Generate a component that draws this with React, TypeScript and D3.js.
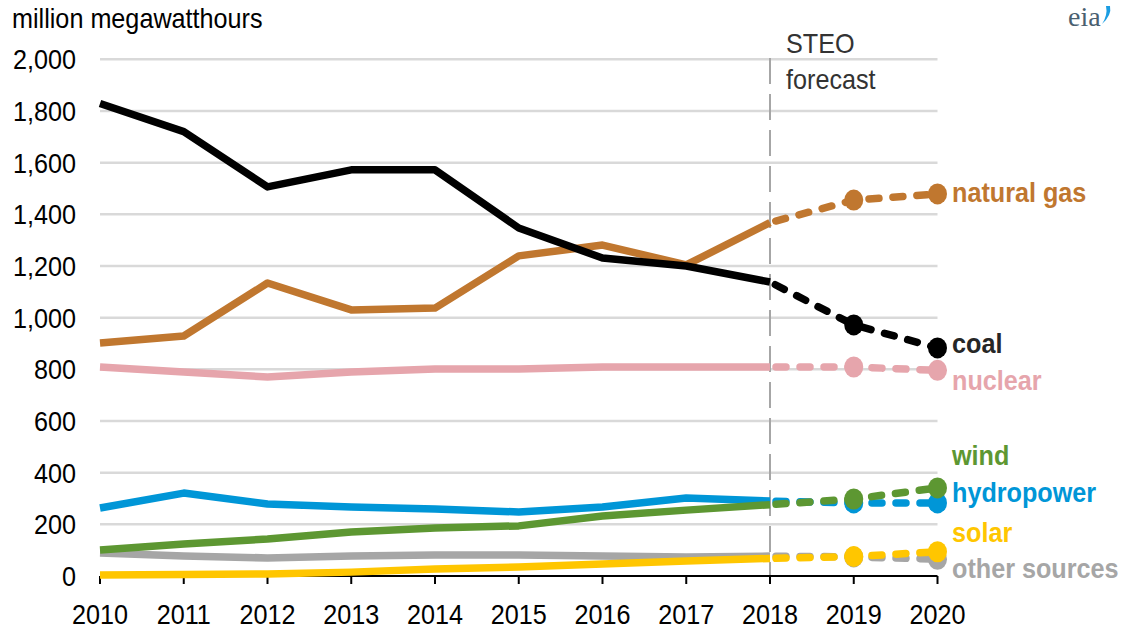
import React from "react";
import * as d3 from "d3";

const years = [2010, 2011, 2012, 2013, 2014, 2015, 2016, 2017, 2018, 2019, 2020];
const forecastStart = 2018;
const yTicks = [0, 200, 400, 600, 800, 1000, 1200, 1400, 1600, 1800, 2000];

const naturalGas = [902, 929, 1134, 1030, 1037, 1239, 1281, 1204, 1368, 1455, 1479];
const coal = [1829, 1720, 1506, 1572, 1572, 1347, 1231, 1200, 1138, 972, 883];
const nuclear = [809, 790, 770, 790, 801, 801, 809, 809, 809, 809, 796];
const hydropower = [263, 321, 279, 267, 259, 248, 267, 302, 290, 283, 283];
const wind = [101, 124, 143, 170, 186, 194, 232, 255, 276, 298, 341];
const otherSources = [89, 77, 70, 77, 81, 81, 77, 74, 77, 74, 65];
const solar = [4, 6, 8, 15, 27, 35, 46, 58, 68, 75, 94];

const series = [
  { name: "other sources", values: otherSources, color: "#a6a6a6", labelColor: "#a6a6a6", labelY: 578 },
  { name: "solar", values: solar, color: "#ffc600", labelColor: "#ffc600", labelY: 541.5 },
  { name: "hydropower", values: hydropower, color: "#0096d7", labelColor: "#0096d7", labelY: 501.5 },
  { name: "wind", values: wind, color: "#5d9732", labelColor: "#5d9732", labelY: 465 },
  { name: "nuclear", values: nuclear, color: "#e6a5ac", labelColor: "#e6a5ac", labelY: 390 },
  { name: "natural gas", values: naturalGas, color: "#c0772f", labelColor: "#c0772f", labelY: 201.5 },
  { name: "coal", values: coal, color: "#000000", labelColor: "#262626", labelY: 352.5 },
];

const FONT = "'Liberation Sans', Arial, sans-serif";
const SX = 0.9;

function T({ x, y, anchor = "start", size = 28, weight = "normal", fill = "#000", children }: any) {
  return (
    <text
      transform={`translate(${x},${y}) scale(${SX},1)`}
      textAnchor={anchor}
      fontFamily={FONT}
      fontSize={size}
      fontWeight={weight}
      fill={fill}
    >
      {children}
    </text>
  );
}

export default function App() {
  const W = 1122;
  const H = 632;
  const x = d3.scaleLinear().domain([2010, 2020]).range([100, 937.5]);
  const y = d3.scaleLinear().domain([0, 2000]).range([576, 59.3]);
  const line = d3
    .line<[number, number]>()
    .x((d) => x(d[0]))
    .y((d) => y(d[1]));

  return (
    <svg width={W} height={H} style={{ position: "absolute", left: 0, top: 0, background: "#fff" }}>
      <rect width={W} height={H} fill="#fff" />
      {/* gridlines */}
      {yTicks.filter((t) => t > 0).map((t) => (
        <line key={t} x1={x(2010)} x2={x(2020)} y1={y(t)} y2={y(t)} stroke="#d9d9d9" strokeWidth={2.5} />
      ))}
      {/* y tick labels */}
      {yTicks.map((t) => (
        <T key={t} x={76} y={y(t) + 10} anchor="end">
          {d3.format(",")(t)}
        </T>
      ))}
      {/* forecast divider */}
      <line x1={x(forecastStart)} x2={x(forecastStart)} y1={58} y2={576} stroke="#a6a6a6" strokeWidth={2} strokeDasharray="26,10" />
      <T x={786} y={53} fill="#333">STEO</T>
      <T x={786} y={89} fill="#333">forecast</T>
      {/* x axis */}
      <line x1={x(2010)} x2={x(2020)} y1={576} y2={576} stroke="#000" strokeWidth={2} />
      {years.map((yr) => (
        <g key={yr}>
          <line x1={x(yr)} x2={x(yr)} y1={576} y2={584} stroke="#000" strokeWidth={2} />
          <T x={x(yr)} y={624} anchor="middle">{yr}</T>
        </g>
      ))}
      {/* series */}
      {series.map((s) => {
        const pts: [number, number][] = years.map((yr, i) => [yr, s.values[i]]);
        const hist = pts.filter((p) => p[0] <= forecastStart);
        const fc = pts.filter((p) => p[0] >= forecastStart);
        return (
          <g key={s.name}>
            <path d={line(hist) || ""} fill="none" stroke={s.color} strokeWidth={7.5} strokeLinejoin="round" />
            <path d={line(fc) || ""} fill="none" stroke={s.color} strokeWidth={7.5} strokeDasharray="10,14" strokeLinecap="round" strokeDashoffset={-6} />
            {fc.slice(1).map((p) => (
              <ellipse key={p[0]} cx={x(p[0])} cy={y(p[1])} rx={9.5} ry={10.5} fill={s.color} />
            ))}
          </g>
        );
      })}
      {/* labels */}
      {series.map((s) => (
        <T key={s.name} x={952} y={s.labelY} weight="bold" fill={s.labelColor}>
          {s.name}
        </T>
      ))}
      <T x={12} y={28}>million megawatthours</T>
      {/* eia logo */}
      <text x={1068} y={26} fontFamily="'Liberation Serif', serif" fontSize={28} fill="#4a5f70">eia</text>
      <path d="M1106,6 Q1108,15 1102,24 Q1112,15 1110,6 Z" fill="#1b9de2" />
    </svg>
  );
}
